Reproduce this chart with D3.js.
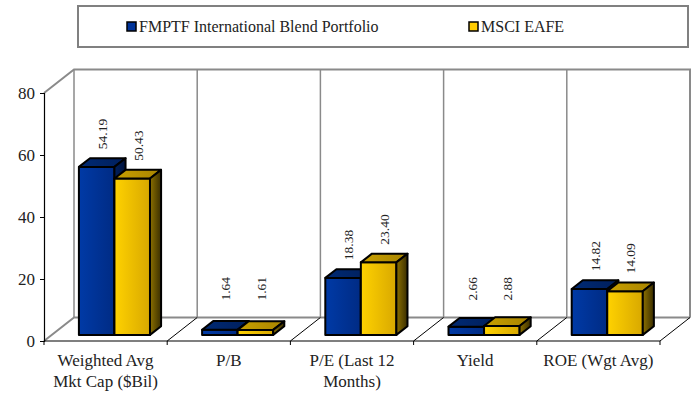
<!DOCTYPE html>
<html>
<head>
<meta charset="utf-8">
<script src="https://cdn.jsdelivr.net/npm/d3@7"></script>
<style>
  html, body { margin: 0; padding: 0; background: #fff; }
  svg { display: block; }
  svg text { font-family: "Liberation Serif", "Times New Roman", serif; }
</style>
</head>
<body>
<svg id="chart" width="692" height="396"></svg>
<script>
// Portfolio characteristics, fund vs. benchmark
const categories = ["Weighted Avg Mkt Cap ($Bil)", "P/B", "P/E (Last 12 Months)", "Yield", "ROE (Wgt Avg)"];
const seriesNames = ["FMPTF International Blend Portfolio", "MSCI EAFE"];
const fundValues = [54.19, 1.64, 18.38, 2.66, 14.82];
const benchValues = [50.43, 1.61, 23.40, 2.88, 14.09];
const yTicks = [0, 20, 40, 60, 80];

const FONT = "Liberation Serif";
const svg = d3.select("#chart").attr("font-family", FONT);

// 3D projection: depth z in [0,1] shifts right and up
const DX = 30, DY = -23.5;
const plot = { left: 44, right: 660, top: 93, bottom: 341 };

const x = d3.scaleBand().domain(categories).range([plot.left, plot.right]).padding(0);
const y = d3.scaleLinear().domain([0, 80]).range([plot.bottom, plot.top]);
const inner = d3.scaleBand().domain(seriesNames)
  .range([x.bandwidth() * 0.22, x.bandwidth() * 0.797]).padding(0);

const P = (px, v, z) => [px + z * DX, y(v) + z * DY];
const Z0 = 0.26, Z1 = 0.63;

// gradients
const defs = svg.append("defs");
function grad(id, stops) {
  const g = defs.append("linearGradient").attr("id", id).attr("x1", 0).attr("x2", 1).attr("y1", 0).attr("y2", 0);
  stops.forEach(([o, c]) => g.append("stop").attr("offset", o).attr("stop-color", c));
}
grad("blueFront", [[0, "#003aa6"], [1, "#002b84"]]);
grad("blueTop", [[0, "#002a74"], [1, "#001f5c"]]);
grad("blueSide", [[0, "#00205e"], [1, "#00123a"]]);
grad("yelFront", [[0, "#ffd200"], [1, "#d8a800"]]);
grad("yelTop", [[0, "#c9a000"], [1, "#a88400"]]);
grad("yelSide", [[0, "#8c7000"], [1, "#3a2e00"]]);
const faces = [
  { front: "url(#blueFront)", top: "url(#blueTop)", side: "url(#blueSide)", swatch: "#003399" },
  { front: "url(#yelFront)", top: "url(#yelTop)", side: "url(#yelSide)", swatch: "#ffcc00" }
];

// legend
const legend = svg.append("g");
legend.append("rect").attr("x", 78).attr("y", 6).attr("width", 610).attr("height", 41)
  .attr("fill", "#fff").attr("stroke", "#808080").attr("stroke-width", 2);
const legendX = [127, 469];
seriesNames.forEach((name, i) => {
  legend.append("rect").attr("x", legendX[i]).attr("y", 22).attr("width", 9).attr("height", 9)
    .attr("fill", faces[i].swatch).attr("stroke", "#000").attr("stroke-width", 1.5);
  legend.append("text").attr("x", legendX[i] + 12).attr("y", 32)
    .attr("font-family", FONT).attr("font-size", 16).attr("fill", "#222").text(name);
});

// back wall and floor
const grid = svg.append("g");
const line = d3.line();
const boundaries = d3.range(categories.length + 1).map(i => plot.left + i * x.step());
grid.append("path")
  .attr("d", line([P(plot.left, 80, 0), P(plot.left, 80, 1), P(plot.right, 80, 1), P(plot.right, 0, 1)]))
  .attr("fill", "none").attr("stroke", "#8a8a8a").attr("stroke-width", 2);
grid.append("path")
  .attr("d", line([P(plot.left, 0, 0), P(plot.left, 0, 1), P(plot.right, 0, 1)]))
  .attr("fill", "none").attr("stroke", "#8a8a8a").attr("stroke-width", 2);
boundaries.forEach((bx, i) => {
  grid.append("line")
    .attr("x1", P(bx, 0, 1)[0]).attr("y1", P(bx, 0, 1)[1])
    .attr("x2", P(bx, 80, 1)[0]).attr("y2", P(bx, 80, 1)[1])
    .attr("stroke", "#8a8a8a").attr("stroke-width", 1.5);
  if (i > 0) {
    grid.append("line")
      .attr("x1", bx).attr("y1", y(0)).attr("x2", P(bx, 0, 1)[0]).attr("y2", P(bx, 0, 1)[1])
      .attr("stroke", "#000").attr("stroke-width", 1);
  }
  grid.append("line").attr("x1", bx).attr("x2", bx).attr("y1", y(0)).attr("y2", y(0) + 4)
    .attr("stroke", "#000").attr("stroke-width", 1);
});
grid.append("line").attr("x1", plot.left).attr("x2", plot.right).attr("y1", y(0)).attr("y2", y(0))
  .attr("stroke", "#000").attr("stroke-width", 1.2);

// y axis
const yAxis = svg.append("g").attr("transform", `translate(${plot.left},0)`)
  .call(d3.axisLeft(y).tickValues(yTicks).tickSize(4).tickPadding(5).tickFormat(d3.format("d")));
yAxis.attr("font-family", FONT);
yAxis.select(".domain").attr("stroke", "#000").attr("stroke-width", 1.2);
yAxis.selectAll(".tick line").attr("stroke", "#000");
yAxis.selectAll(".tick text").attr("font-size", 17).attr("fill", "#222").attr("font-family", FONT);

// bars
const bars = svg.append("g");
const labels = svg.append("g");
const data = [fundValues, benchValues];
categories.forEach((cat, ci) => {
  seriesNames.forEach((s, si) => {
    const v = data[si][ci];
    const x0 = x(cat) + inner(s), x1 = x0 + inner.bandwidth();
    const f = faces[si];
    const front = [P(x0, 0, Z0), P(x1, 0, Z0), P(x1, v, Z0), P(x0, v, Z0)];
    const top = [P(x0, v, Z0), P(x1, v, Z0), P(x1, v, Z1), P(x0, v, Z1)];
    const side = [P(x1, 0, Z0), P(x1, 0, Z1), P(x1, v, Z1), P(x1, v, Z0)];
    [[front, f.front], [top, f.top], [side, f.side]].forEach(([pts, fill]) => {
      bars.append("path").attr("d", line(pts) + "Z").attr("fill", fill)
        .attr("stroke", "#000").attr("stroke-width", 2).attr("stroke-linejoin", "round");
    });
    // value label, rotated, above the bar
    const lx = (x0 + x1) / 2 + (Z0 + Z1) / 2 * DX;
    const ly = Math.min(P(x0, v, Z1)[1] - 9, y(0) + DY - 17);
    labels.append("text")
      .attr("transform", `translate(${lx},${ly}) rotate(-90)`)
      .attr("dy", "0.35em").attr("font-family", FONT).attr("font-size", 13.5).attr("fill", "#222")
      .text(v.toFixed(2));
  });
});

// category labels, wrapped to the band width
const catG = svg.append("g");
categories.forEach(cat => {
  const t = catG.append("text").attr("text-anchor", "middle").attr("font-family", FONT)
    .attr("font-size", 17).attr("fill", "#222");
  const words = cat.split(" ");
  let lines = [], cur = [];
  const probe = svg.append("text").attr("font-family", FONT).attr("font-size", 17);
  words.forEach(w => {
    const tryLine = cur.concat(w).join(" ");
    probe.text(tryLine);
    if (cur.length && probe.node().getComputedTextLength() > x.bandwidth() - 6) {
      lines.push(cur.join(" "));
      cur = [w];
    } else cur.push(w);
  });
  lines.push(cur.join(" "));
  probe.remove();
  lines.forEach((ln, i) => {
    t.append("tspan").attr("x", x(cat) + x.bandwidth() / 2).attr("y", 366 + i * 21).text(ln);
  });
});
</script>
</body>
</html>
